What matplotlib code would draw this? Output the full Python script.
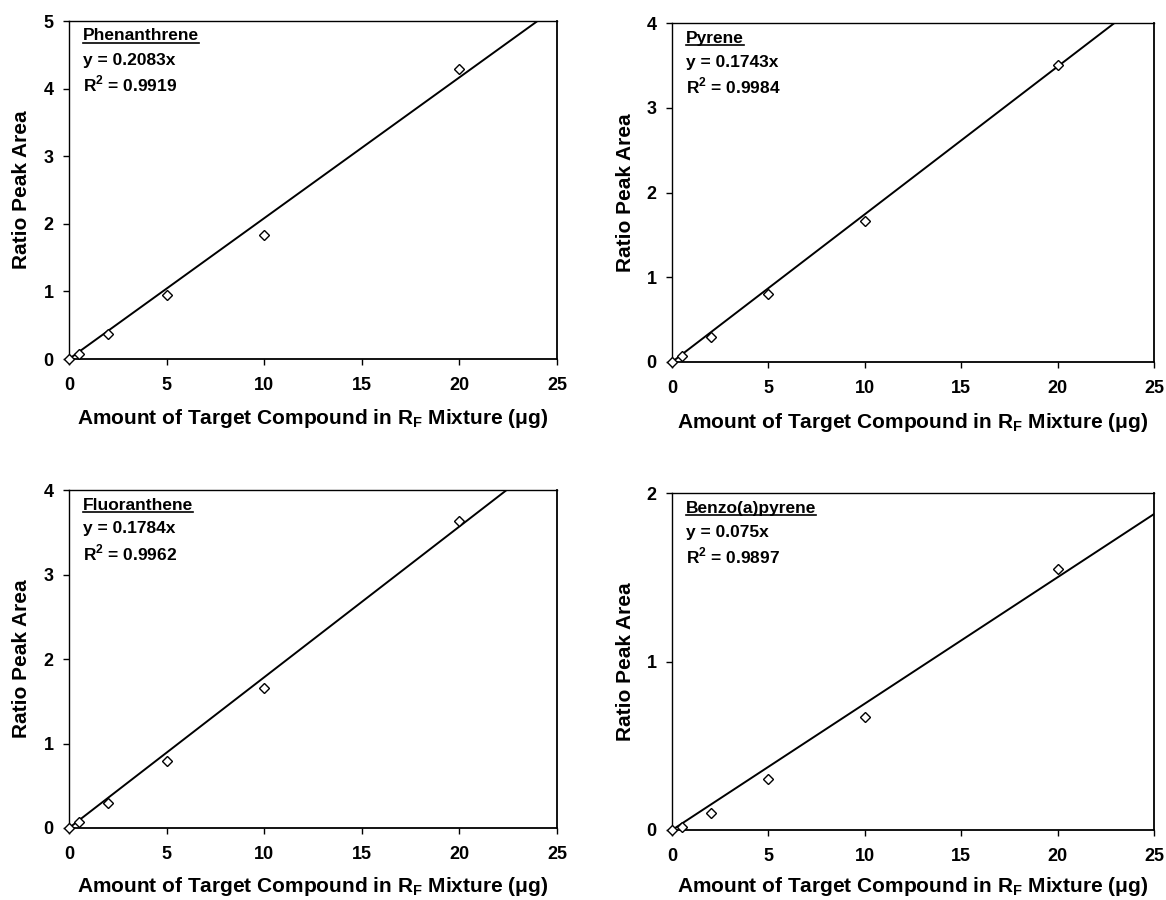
import matplotlib
matplotlib.use("Agg")
import matplotlib.pyplot as plt
from matplotlib.lines import Line2D
import numpy as np

plt.rcParams['font.family'] = ['Liberation Sans', 'DejaVu Sans']
plt.rcParams['font.weight'] = 'bold'
plt.rcParams['mathtext.fontset'] = 'custom'
plt.rcParams['mathtext.rm'] = 'Liberation Sans:bold'
plt.rcParams['mathtext.bf'] = 'Liberation Sans:bold'

# amount of target compound in the RF mixture (ug)
amount = [0, 0.5, 2, 5, 10, 20]

compounds = ['Phenanthrene', 'Pyrene', 'Fluoranthene', 'Benzo(a)pyrene']
phenanthrene = [0, 0.07, 0.37, 0.94, 1.83, 4.29]
pyrene = [0, 0.07, 0.30, 0.80, 1.66, 3.50]
fluoranthene = [0, 0.07, 0.29, 0.79, 1.66, 3.63]
benzo_a_pyrene = [0, 0.02, 0.10, 0.30, 0.67, 1.55]
ratios = [phenanthrene, pyrene, fluoranthene, benzo_a_pyrene]

slopes = [0.2083, 0.1743, 0.1784, 0.075]
slope_txt = ['0.2083', '0.1743', '0.1784', '0.075']
r2 = ['0.9919', '0.9984', '0.9962', '0.9897']
ymax = [5, 4, 4, 2]

# axes boxes in pixels: left, top, right, bottom
W, H = 1166, 900
boxes = [(69, 21, 557, 359), (672, 23, 1154, 362),
         (69, 490, 557, 828), (672, 493, 1154, 830)]
xlabel_off = [60, 60, 59, 56]

fig = plt.figure(figsize=(W / 100, H / 100), dpi=100)

axes = []
for i in range(4):
    l, t, r, b = boxes[i]
    w_px, h_px = r - l, b - t
    ax = fig.add_axes([l / W, 1 - b / H, w_px / W, h_px / H])
    axes.append(ax)

    xs = np.array([0, 25])
    ax.plot(xs, slopes[i] * xs, color='black', lw=1.4)
    ax.plot(amount, ratios[i], linestyle='none', marker='D', markersize=5,
            markerfacecolor='white', markeredgecolor='black', markeredgewidth=1.0,
            clip_on=False, zorder=3)

    ax.set_xlim(0, 25)
    ax.set_ylim(0, ymax[i])
    ax.set_xticks([0, 5, 10, 15, 20, 25])
    ax.set_yticks(range(0, ymax[i] + 1))
    ax.tick_params(labelsize=13, width=1, length=4, direction='out')
    ax.tick_params(axis='x', pad=9)
    ax.tick_params(axis='y', pad=7)
    for lab in ax.get_xticklabels() + ax.get_yticklabels():
        lab.set_fontweight('bold')
    for sp in ax.spines.values():
        sp.set_linewidth(1.3)
    ax.spines['top'].set_linewidth(1.0)
    ax.spines['left'].set_linewidth(1.0)

    ax.set_xlabel('Amount of Target Compound in R$_{\\mathrm{F}}$ Mixture (\u03bcg)',
                  fontsize=15, fontweight='bold', va='center')
    ax.xaxis.set_label_coords(0.5, -xlabel_off[i] / h_px)
    ax.set_ylabel('Ratio Peak Area', fontsize=15, fontweight='bold', va='center')
    ax.yaxis.set_label_coords(-47 / w_px, 0.5)

    ax.text(14 / w_px, 1 - 15 / h_px, compounds[i], transform=ax.transAxes,
            fontsize=12.5, fontweight='bold', va='center', ha='left', gid='name%d' % i)
    ax.text(14 / w_px, 1 - 39 / h_px, 'y = ' + slope_txt[i] + 'x', transform=ax.transAxes,
            fontsize=12.5, fontweight='bold', va='center', ha='left')
    ax.text(14 / w_px, 1 - 63 / h_px, 'R$^{2}$ = ' + r2[i], transform=ax.transAxes,
            fontsize=12.5, fontweight='bold', va='center', ha='left')

# underline the compound names
fig.canvas.draw()
renderer = fig.canvas.get_renderer()
for ax in axes:
    for txt in ax.texts:
        if txt.get_gid() and txt.get_gid().startswith('name'):
            bb = txt.get_window_extent(renderer).transformed(fig.transFigure.inverted())
            fig.add_artist(Line2D([bb.x0, bb.x1], [bb.y0 + 0.001, bb.y0 + 0.001],
                                  transform=fig.transFigure, color='black', lw=1.2))

fig.savefig('out.png', dpi=100)
